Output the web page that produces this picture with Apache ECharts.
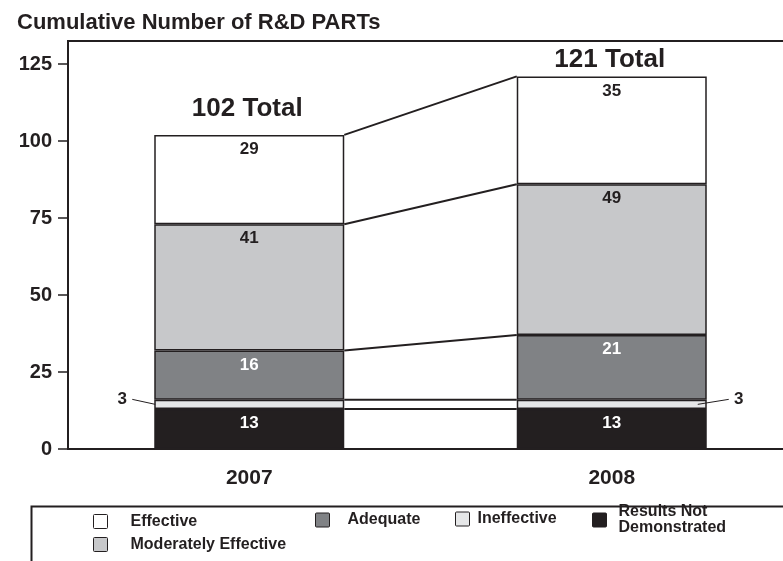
<!DOCTYPE html>
<html>
<head>
<meta charset="utf-8">
<script src="https://cdn.jsdelivr.net/npm/echarts@6/dist/echarts.min.js"></script>
<style>
  html, body { margin: 0; padding: 0; background: #fff; }
  #chart { width: 783px; height: 561px; }
</style>
</head>
<body>
<div id="chart"></div>
<script>
// data
const years = ['2007', '2008'];
const yTicks = [0, 25, 50, 75, 100, 125];
const notDemonstrated = [13, 13];
const ineffective = [3, 3];
const adequate = [16, 21];
const moderatelyEffective = [41, 49];
const effective = [29, 35];

const ink = '#231f20';
const font = "'Liberation Sans', Arial, Helvetica, sans-serif";
const barW = 190;

// stack order bottom -> top
const stack = [
  { name: 'Results Not Demonstrated', values: notDemonstrated, color: ink, label: '#fff' },
  { name: 'Ineffective', values: ineffective, color: '#e6e7e8', label: null },
  { name: 'Adequate', values: adequate, color: '#808285', label: '#fff' },
  { name: 'Moderately Effective', values: moderatelyEffective, color: '#c7c8ca', label: ink },
  { name: 'Effective', values: effective, color: '#ffffff', label: ink }
];

// cumulative tops of every segment, for the joining lines
const joins = [];
let run = [0, 0];
stack.forEach(s => {
  run = run.map((r, i) => r + s.values[i]);
  joins.push([0, run[0], 1, run[1]]);
});
const totals = run.slice();

const chart = echarts.init(document.getElementById('chart'));

const barSeries = stack.map(s => ({
  name: s.name,
  type: 'bar',
  stack: 'all',
  barWidth: barW,
  data: s.values,
  itemStyle: { color: s.color, borderColor: ink, borderWidth: 1.5 },
  label: {
    show: !!s.label,
    position: 'insideTop',
    distance: 6,
    color: s.label || ink,
    fontSize: 17,
    fontWeight: 'bold',
    fontFamily: font
  },
  emphasis: { disabled: true }
}));

const totalGap = [26, 17];

const legendBase = {
  padding: 0,
  itemWidth: 14,
  itemHeight: 14,
  icon: 'path://M1,0 L13,0 Q14,0 14,1 L14,13 Q14,14 13,14 L1,14 Q0,14 0,13 L0,1 Q0,0 1,0 Z',
  itemStyle: { borderWidth: 1, borderColor: ink },
  selectedMode: false
};
const legendText = { fontSize: 16, fontWeight: 'bold', color: ink, fontFamily: font, lineHeight: 16 };

const option = {
  animation: false,
  textStyle: { fontFamily: font },
  title: {
    text: 'Cumulative Number of R&D PARTs',
    left: 12,
    top: 7,
    textStyle: { fontSize: 22, fontWeight: 'bold', color: ink, fontFamily: font }
  },
  graphic: [{
    type: 'rect',
    left: 29, top: 504,
    shape: { width: 800, height: 100 },
    style: { fill: 'none', stroke: ink, lineWidth: 2 },
    silent: true
  }],
  legend: [
    Object.assign({}, legendBase, {
      data: ['Effective', 'Moderately Effective'],
      orient: 'vertical',
      left: 93, top: 511,
      height: 60,
      itemGap: 2,
      textStyle: Object.assign({}, legendText, { padding: [5, 0, 0, 18] })
    }),
    Object.assign({}, legendBase, {
      data: ['Adequate'],
      left: 315, top: 512,
      textStyle: Object.assign({}, legendText, { padding: [0, 0, 0, 13] })
    }),
    Object.assign({}, legendBase, {
      data: ['Ineffective'],
      left: 455, top: 511,
      textStyle: Object.assign({}, legendText, { padding: [0, 0, 0, 3] })
    }),
    Object.assign({}, legendBase, {
      data: ['Results Not Demonstrated'],
      left: 592, top: 504,
      formatter: n => n.replace(' Demonstrated', '\nDemonstrated'),
      textStyle: Object.assign({}, legendText, { padding: [0, 0, 0, 7] })
    })
  ],
  grid: {
    left: 68, width: 725, top: 41, bottom: 112,
    outerBoundsMode: 'none',
    show: true, borderColor: ink, borderWidth: 2,
    containLabel: false
  },
  xAxis: {
    type: 'category',
    data: years,
    axisLine: { lineStyle: { color: ink, width: 2 } },
    axisTick: { show: false },
    axisLabel: { color: ink, fontSize: 21, fontWeight: 'bold', margin: 19 }
  },
  yAxis: {
    type: 'value',
    min: 0, max: 132.5, interval: 25,
    splitLine: { show: false },
    axisLine: { show: true, lineStyle: { color: ink, width: 2 } },
    axisTick: { show: true, length: 10, customValues: yTicks, lineStyle: { color: ink, width: 1.5 } },
    axisLabel: { color: ink, fontSize: 20, fontWeight: 'bold', margin: 16, customValues: yTicks }
  },
  series: barSeries.concat([
    {
      // lines joining the segment tops of both bars
      type: 'custom',
      name: 'joins',
      silent: true,
      encode: { x: [0, 2], y: [1, 3] },
      data: joins,
      renderItem: (params, api) => {
        const a = api.coord([api.value(0), api.value(1)]);
        const b = api.coord([api.value(2), api.value(3)]);
        return {
          type: 'line',
          shape: { x1: a[0] + barW / 2, y1: a[1], x2: b[0] - barW / 2, y2: b[1] },
          style: { stroke: ink, lineWidth: 2 }
        };
      },
      z: 3
    },
    {
      // outside callouts for the thin "Ineffective" slice
      type: 'custom',
      name: 'callouts',
      silent: true,
      data: years.map((y, i) => [i, notDemonstrated[i] + ineffective[i] / 2, ineffective[i]]),
      renderItem: (params, api) => {
        const i = api.value(0);
        const p = api.coord([i, api.value(1)]);
        const side = i === 0 ? -1 : 1;
        const edge = p[0] + side * (barW / 2 - (side > 0 ? 9 : 1));
        const end = p[0] + side * (barW / 2 + 22);
        return {
          type: 'group',
          children: [
            { type: 'line', shape: { x1: edge, y1: p[1], x2: end, y2: p[1] - 5 }, style: { stroke: ink, lineWidth: 1 } },
            {
              type: 'text',
              x: end + side * 10, y: p[1] - 5,
              style: { text: String(api.value(2)), fill: ink, fontSize: 17, fontWeight: 'bold', fontFamily: font, align: 'center', verticalAlign: 'middle' }
            }
          ]
        };
      },
      z: 4
    },
    {
      // totals above each bar
      type: 'custom',
      name: 'totals',
      silent: true,
      data: years.map((y, i) => [i, totals[i]]),
      renderItem: (params, api) => {
        const p = api.coord([api.value(0), api.value(1)]);
        return {
          type: 'text',
          x: p[0] - 2, y: p[1] - totalGap[params.dataIndex],
          style: { text: api.value(1) + ' Total', fill: ink, fontSize: 26, fontWeight: 'bold', fontFamily: font, align: 'center', verticalAlign: 'middle' }
        };
      },
      z: 4
    }
  ])
};

chart.setOption(option);
</script>
</body>
</html>
